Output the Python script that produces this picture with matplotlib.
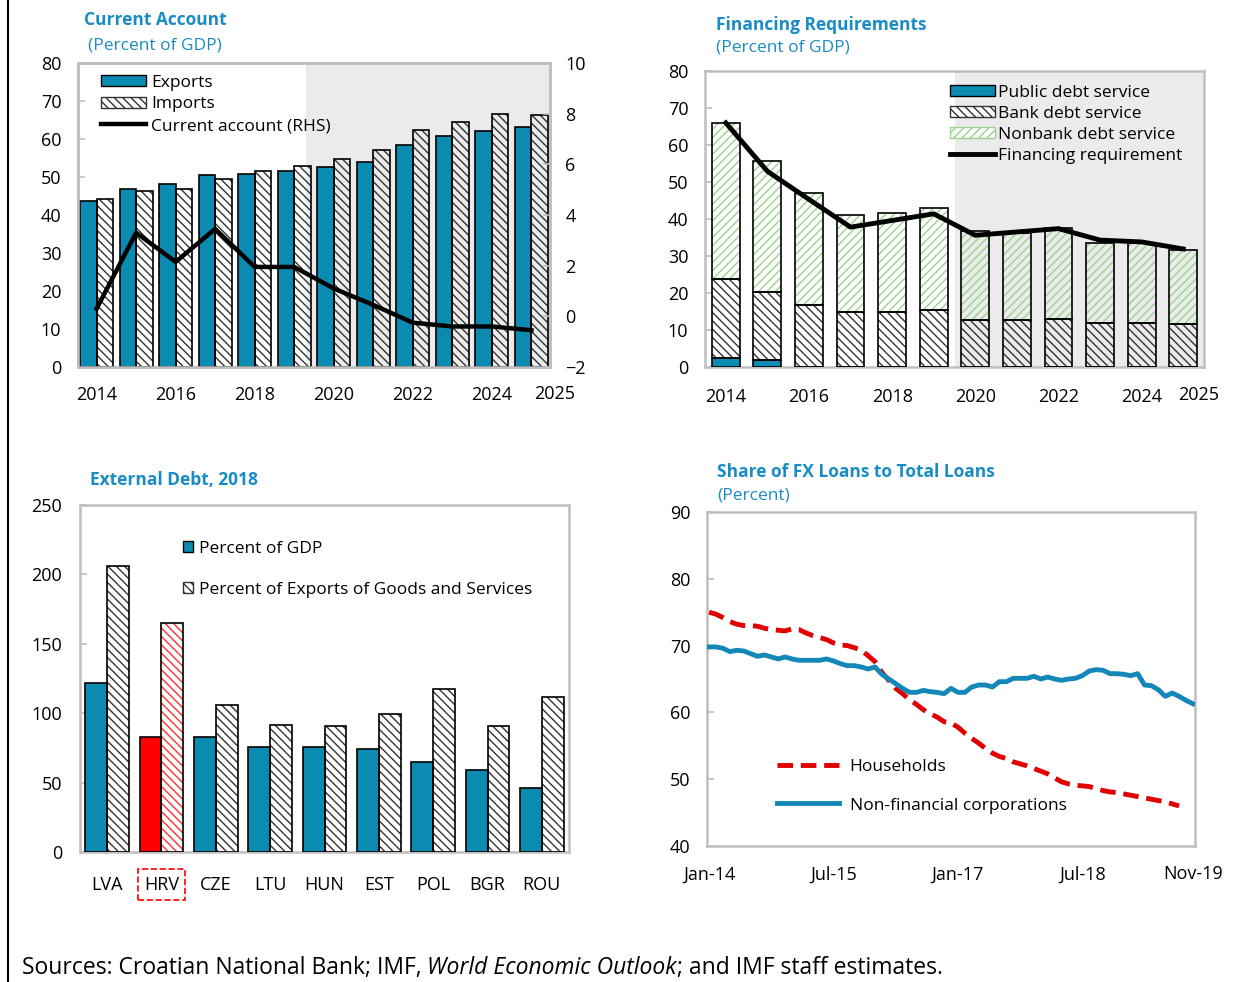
import matplotlib
matplotlib.use("Agg")
import matplotlib.pyplot as plt
from matplotlib.patches import Patch
from matplotlib.lines import Line2D
import numpy as np

# ---- data ----
years = [str(y) for y in range(2014, 2026)]
exports = [43.7, 46.9, 48.2, 50.4, 50.8, 51.7, 52.6, 53.9, 58.3, 60.7, 62.2, 63.2]
imports = [44.1, 46.3, 46.8, 49.4, 51.7, 53.0, 54.8, 57.0, 62.3, 64.4, 66.7, 66.3]
curr_acc = [0.3, 3.3, 2.15, 3.45, 1.95, 1.95, 1.1, 0.45, -0.25, -0.4, -0.4, -0.55]

public_ds = [2.4, 2.0, 0, 0, 0, 0, 0, 0, 0, 0, 0, 0]
bank_ds = [21.4, 18.2, 16.7, 14.9, 14.9, 15.3, 12.6, 12.6, 13.1, 11.9, 11.9, 11.5]
nonbank_ds = [42.2, 35.6, 30.3, 26.1, 26.7, 27.6, 24.1, 23.5, 24.4, 21.6, 21.6, 20.0]
fin_req = [66.0, 52.9, 45.3, 37.8, 39.6, 41.4, 35.6, 36.5, 37.4, 34.3, 33.8, 31.9]

countries = ["LVA", "HRV", "CZE", "LTU", "HUN", "EST", "POL", "BGR", "ROU"]
debt_gdp = [122, 82.9, 82.9, 75.6, 75.6, 74.2, 65.2, 59.2, 46.4]
debt_exp = [206, 164.7, 105.6, 91.5, 90.6, 99.3, 117.1, 90.6, 111.8]

months = ["Jan-14", "Jul-15", "Jan-17", "Jul-18", "Nov-19"]
nfc = [69.8, 69.8, 69.6, 69.1, 69.3, 69.2, 68.8, 68.4, 68.6, 68.3, 68.0, 68.3,
       68.0, 67.8, 67.8, 67.8, 67.8, 68.0, 67.7, 67.3, 67.0, 67.0, 66.8, 66.5,
       66.8, 65.7, 65.0, 64.3, 63.6, 63.0, 63.0, 63.3, 63.1, 63.0, 62.8, 63.6,
       63.0, 63.0, 63.8, 64.1, 64.1, 63.8, 64.6, 64.6, 65.1, 65.1, 65.1, 65.4,
       65.0, 65.3, 65.0, 64.8, 65.0, 65.1, 65.5, 66.2, 66.4, 66.3, 65.8, 65.8,
       65.7, 65.5, 65.8, 64.1, 64.0, 63.4, 62.4, 62.9, 62.4, 61.8, 61.3]
households = [75.0, 74.7, 74.2, 73.6, 73.2, 73.0, 73.0, 72.9, 72.6, 72.4, 72.3, 72.2,
              72.5, 72.4, 71.9, 71.5, 71.2, 70.9, 70.4, 70.1, 70.0, 69.7, 69.3, 68.5,
              67.6, 66.0, 64.8, 63.6, 62.8, 61.9, 61.2, 60.4, 59.8, 59.3, 58.6, 58.4,
              57.8, 56.9, 56.1, 55.4, 54.6, 53.9, 53.4, 53.1, 52.6, 52.3, 52.0, 51.6,
              51.2, 50.8, 50.2, 49.6, 49.3, 49.1, 49.0, 48.9, 48.6, 48.3, 48.1, 48.0,
              47.8, 47.6, 47.4, 47.2, 47.0, 46.8, 46.6, 46.3, 46.0]

# ---- style ----
plt.rcParams["font.family"] = ["Open Sans", "DejaVu Sans"]
plt.rcParams["hatch.linewidth"] = 1.0
BLUE = "#0b8bb2"
TITLE = "#1a8cc4"
GRID = "#bfbfbf"
SHADE = "#ebebeb"
HATCH = "\\\\\\\\"
GREEN = "#9ad38c"
W, H = 1243, 982

fig = plt.figure(figsize=(W / 100, H / 100), dpi=100)


def axes_px(l, t, r, b):
    return fig.add_axes([l / W, 1 - b / H, (r - l) / W, (b - t) / H])


def style(ax, ypad=12, xpad=14):
    for s in ax.spines.values():
        s.set_color(GRID)
        s.set_linewidth(1.8)
    ax.tick_params(axis="y", direction="in", length=5, color=GRID, width=1.2,
                   labelsize=13, pad=ypad)
    ax.tick_params(axis="x", length=0, labelsize=13, pad=xpad)


def hbar(ax, x, h, w, bottom=0, hatch=HATCH, hc="#333333"):
    ax.bar(x, h, w, bottom=bottom, facecolor="none", edgecolor=hc, hatch=hatch,
           lw=0, zorder=2)
    ax.bar(x, h, w, bottom=bottom, fill=False, edgecolor="black", lw=1.2, zorder=3)


def title(x, y, txt, bold=True):
    fig.text(x / W, 1 - y / H, txt, color=TITLE, fontsize=12.5,
             fontweight="bold" if bold else "normal", va="center", ha="left")


# ---- Current account ----
ax = axes_px(78, 63, 550, 367)
x = np.arange(len(years))
bw = 0.42
ax.axvspan(5.3, 11.47, color=SHADE, lw=0, zorder=0)
ax.bar(x - bw / 2, exports, bw, color=BLUE, edgecolor="black", lw=1.2, zorder=3)
hbar(ax, x + bw / 2, imports, bw)
ax.set_xlim(-0.47, 11.47)
ax.set_ylim(0, 80)
ax.set_yticks(range(0, 81, 10))
ax.set_xticks(x[:11:2])
ax.set_xticklabels(years[:11:2])
ax.text(11.58, -0.09, years[-1], transform=ax.get_xaxis_transform(),
        ha="center", va="center", fontsize=13)
style(ax, xpad=14)
ax2 = ax.twinx()
ax2.plot(x, curr_acc, color="black", lw=3.2, zorder=5)
ax2.set_ylim(-2, 10)
ax2.set_yticks(range(-2, 11, 2))
style(ax2, ypad=11)
handles = [Patch(facecolor=BLUE, edgecolor="black"),
           Patch(facecolor="white", edgecolor="#333333", hatch=HATCH),
           Line2D([], [], color="black", lw=3.2)]
ax2.legend(handles, ["Exports", "Imports", "Current account (RHS)"],
           loc="upper left", bbox_to_anchor=(92 / W, 1 - 66 / H),
           bbox_transform=fig.transFigure, frameon=False, fontsize=12.5,
           handlelength=2.6, handleheight=0.6, handletextpad=0.3,
           labelspacing=0.33, borderpad=0)
title(84, 20, "Current Account")
title(88, 45, "(Percent of GDP)", bold=False)

# ---- Financing requirements ----
ax = axes_px(705, 71, 1204, 367)
bw = 0.67
ax.axvspan(5.5, 11.5, color=SHADE, lw=0, zorder=0)
bank_bottom = np.array(public_ds)
nb_bottom = bank_bottom + np.array(bank_ds)
ax.bar(x, public_ds, bw, color=BLUE, edgecolor="black", lw=1.2, zorder=3)
hbar(ax, x, bank_ds, bw, bottom=bank_bottom)
hbar(ax, x, nonbank_ds, bw, bottom=nb_bottom, hatch="////", hc=GREEN)
ax.plot(x, fin_req, color="black", lw=3.5, zorder=5)
ax.set_xlim(-0.5, 11.5)
ax.set_ylim(0, 80)
ax.set_yticks(range(0, 81, 10))
ax.set_xticks(x[:11:2])
ax.set_xticklabels(years[:11:2])
ax.text(11.36, -0.095, years[-1], transform=ax.get_xaxis_transform(),
        ha="center", va="center", fontsize=13)
style(ax, xpad=15)
handles = [Patch(facecolor=BLUE, edgecolor="black"),
           Patch(facecolor="white", edgecolor="#333333", hatch=HATCH),
           Patch(facecolor="white", edgecolor=GREEN, hatch="////"),
           Line2D([], [], color="black", lw=3.5)]
ax.legend(handles, ["Public debt service", "Bank debt service",
                    "Nonbank debt service", "Financing requirement"],
          loc="upper left", bbox_to_anchor=(941 / W, 1 - 76 / H),
          bbox_transform=fig.transFigure, frameon=False, fontsize=12.5,
          handlelength=2.6, handleheight=0.6, handletextpad=0.2,
          labelspacing=0.3, borderpad=0)
title(716, 25, "Financing Requirements")
title(716, 48, "(Percent of GDP)", bold=False)

# ---- External debt ----
ax = axes_px(80, 505, 569, 852)
xc = np.arange(len(countries))
bw = 0.4
gdp_colors = [BLUE] * len(countries)
gdp_colors[1] = "#ff0000"
ax.bar(xc - bw / 2, debt_gdp, bw, color=gdp_colors, edgecolor="black", lw=1.2, zorder=3)
for i, v in enumerate(debt_exp):
    hc = "#ff3030" if countries[i] == "HRV" else "#333333"
    hbar(ax, xc[i] + bw / 2, v, bw, hc=hc)
ax.set_xlim(-0.5, 8.5)
ax.set_ylim(0, 250)
ax.set_yticks(range(0, 251, 50))
ax.set_xticks(xc)
ax.set_xticklabels(countries)
style(ax, ypad=13, xpad=17)
for lab in ax.get_xticklabels():
    if lab.get_text() == "HRV":
        lab.set_bbox(dict(boxstyle="square,pad=0.35", fc="none", ec="red",
                          ls="--", lw=1.2))
handles = [Patch(facecolor=BLUE, edgecolor="black"),
           Patch(facecolor="white", edgecolor="#333333", hatch=HATCH)]
ax.legend(handles, ["Percent of GDP", "Percent of Exports of Goods and Services"],
          loc="upper left", bbox_to_anchor=(174 / W, 1 - 532 / H),
          bbox_transform=fig.transFigure, frameon=False, fontsize=12.5,
          handlelength=0.6, handleheight=0.6, handletextpad=0.35,
          labelspacing=1.45, borderpad=0)
title(90, 480, "External Debt, 2018")

# ---- FX loans ----
ax = axes_px(707, 512, 1195, 846)
ax.plot(np.arange(len(households)), households, color="#e00000", lw=3.5,
        dashes=(3.2, 1.6), label="Households", zorder=3)
ax.plot(np.arange(len(nfc)), nfc, color="#1388b8", lw=3.5,
        label="Non-financial corporations", zorder=3)
ax.set_xlim(-0.3, 70.3)
ax.set_ylim(40, 90)
ax.set_yticks(range(40, 91, 10))
ax.set_xticks([0, 18, 36, 54, 70])
ax.set_xticklabels(months)
style(ax, ypad=12, xpad=14)
ax.legend(loc="upper left", bbox_to_anchor=(768 / W, 1 - 750 / H),
          bbox_transform=fig.transFigure, frameon=False, fontsize=12.5,
          handlelength=3.6, handletextpad=0.6, labelspacing=1.3, borderpad=0)
title(717, 472, "Share of FX Loans to Total Loans")
title(717, 496, "(Percent)", bold=False)

# ---- frame and source note ----
fig.add_artist(Line2D([8 / W, 8 / W], [0, 1], color="black", lw=1.5,
                      transform=fig.transFigure))
base = fig.add_axes([0, 0, 1, 1])
base.axis("off")
base.set_zorder(-5)
t1 = base.text(22 / W, 1 - 968 / H, "Sources: Croatian National Bank; IMF,",
               fontsize=16.5, va="center", ha="left")
t2 = base.annotate("World Economic Outlook", xy=(1, 0), xycoords=t1,
                   xytext=(4, 0), textcoords="offset points",
                   fontsize=16.5, style="italic", va="bottom", ha="left")
base.annotate("; and IMF staff estimates.", xy=(1, 0), xycoords=t2,
              fontsize=16.5, va="bottom", ha="left")

fig.savefig("out.png", dpi=100)
